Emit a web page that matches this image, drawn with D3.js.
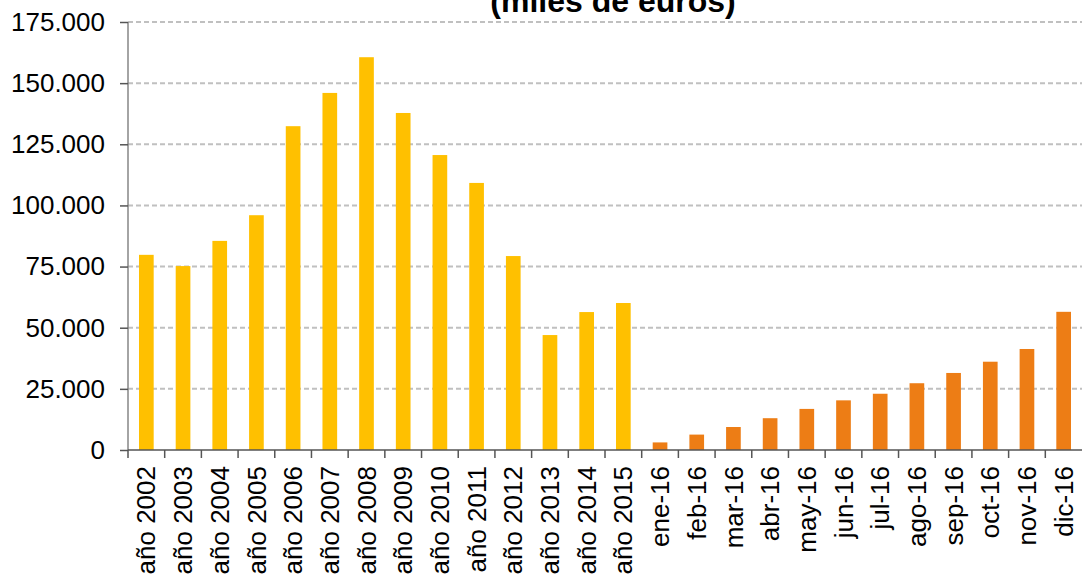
<!DOCTYPE html>
<html>
<head>
<meta charset="utf-8">
<script src="https://cdn.jsdelivr.net/npm/d3@7"></script>
<style>
  body { margin: 0; background: #fff; }
  svg { display: block; font-family: "Liberation Sans", Arial, sans-serif; }
</style>
</head>
<body>
<script>
// categories and values (miles de euros)
var categories = ["año 2002", "año 2003", "año 2004", "año 2005", "año 2006", "año 2007",
  "año 2008", "año 2009", "año 2010", "año 2011", "año 2012", "año 2013", "año 2014",
  "año 2015", "ene-16", "feb-16", "mar-16", "abr-16", "may-16", "jun-16", "jul-16",
  "ago-16", "sep-16", "oct-16", "nov-16", "dic-16"];
var values = [79800, 75200, 85500, 96000, 132400, 146000, 160600, 137800, 120600, 109200,
  79300, 47000, 56400, 60100, 3100, 6300, 9400, 13000, 16800, 20300, 23000, 27300,
  31500, 36100, 41300, 56500];
var yearly = 14; // first 14 are annual totals, rest are monthly 2016
var yTicks = [0, 25000, 50000, 75000, 100000, 125000, 150000, 175000];
var title = "(miles de euros)";

// set the dimensions and margins of the graph
var margin = {top: 22, right: 0, bottom: 130, left: 128},
    width = 1082 - margin.left - margin.right,
    height = 580 - margin.top - margin.bottom;

var es = d3.formatLocale({decimal: ",", thousands: ".", grouping: [3], currency: ["", " €"]});
var fmt = es.format(",");

var x = d3.scaleBand()
    .domain(categories)
    .range([0, width])
    .paddingInner(0.6)
    .paddingOuter(0.3);
var y = d3.scaleLinear()
    .domain([0, 175000])
    .range([height, 0]);

var svg = d3.select("body").append("svg")
    .attr("width", width + margin.left + margin.right)
    .attr("height", height + margin.top + margin.bottom);

var g = svg.append("g")
    .attr("transform", "translate(" + margin.left + "," + margin.top + ")");

// gridlines
g.selectAll(".grid")
    .data(yTicks.filter(function(d) { return d > 0; }))
  .enter().append("line")
    .attr("x1", 0)
    .attr("x2", width)
    .attr("y1", function(d) { return y(d); })
    .attr("y2", function(d) { return y(d); })
    .attr("stroke", "#c0c0c0")
    .attr("stroke-width", 2)
    .attr("stroke-dasharray", "5,3");

// bars
g.selectAll(".bar")
    .data(values)
  .enter().append("rect")
    .attr("class", "bar")
    .attr("x", function(d, i) { return x(categories[i]); })
    .attr("width", x.bandwidth())
    .attr("y", function(d) { return y(d); })
    .attr("height", function(d) { return height - y(d); })
    .attr("fill", function(d, i) { return i < yearly ? "#FFC000" : "#ED7D15"; });

// y axis
var yAxis = g.append("g")
    .call(d3.axisLeft(y).tickValues(yTicks).tickFormat(fmt).tickSize(8).tickPadding(15));
yAxis.selectAll("text").style("font-size", "26px").attr("fill", "#000");
yAxis.selectAll("line").attr("stroke", "#555").attr("stroke-width", 1.5);
yAxis.select(".domain").attr("stroke", "#868686").attr("stroke-width", 1.5)
    .attr("d", "M0," + height + "V0");

// x axis with ticks at band edges
var xAxis = g.append("g")
    .attr("transform", "translate(0," + height + ")");
xAxis.append("line")
    .attr("x1", 0).attr("x2", width)
    .attr("stroke", "#555").attr("stroke-width", 1.5);
xAxis.selectAll(".tick")
    .data(categories)
  .enter().append("line")
    .attr("x1", function(d) { return x(d) - x.step() * x.paddingInner() / 2; })
    .attr("x2", function(d) { return x(d) - x.step() * x.paddingInner() / 2; })
    .attr("y1", 0).attr("y2", 8)
    .attr("stroke", "#555").attr("stroke-width", 1.5);
xAxis.selectAll(".lbl")
    .data(categories)
  .enter().append("text")
    .attr("transform", function(d) {
      return "translate(" + (x(d) + x.bandwidth() / 2) + ",16) rotate(-90)";
    })
    .attr("text-anchor", "end")
    .attr("dy", "0.35em")
    .style("font-size", "26px")
    .text(function(d) { return d; });

// title (upper line falls outside the picture)
svg.append("text")
    .attr("x", 613)
    .attr("y", 12)
    .attr("text-anchor", "middle")
    .style("font-size", "32px")
    .style("font-weight", "bold")
    .text(title);
</script>
</body>
</html>
